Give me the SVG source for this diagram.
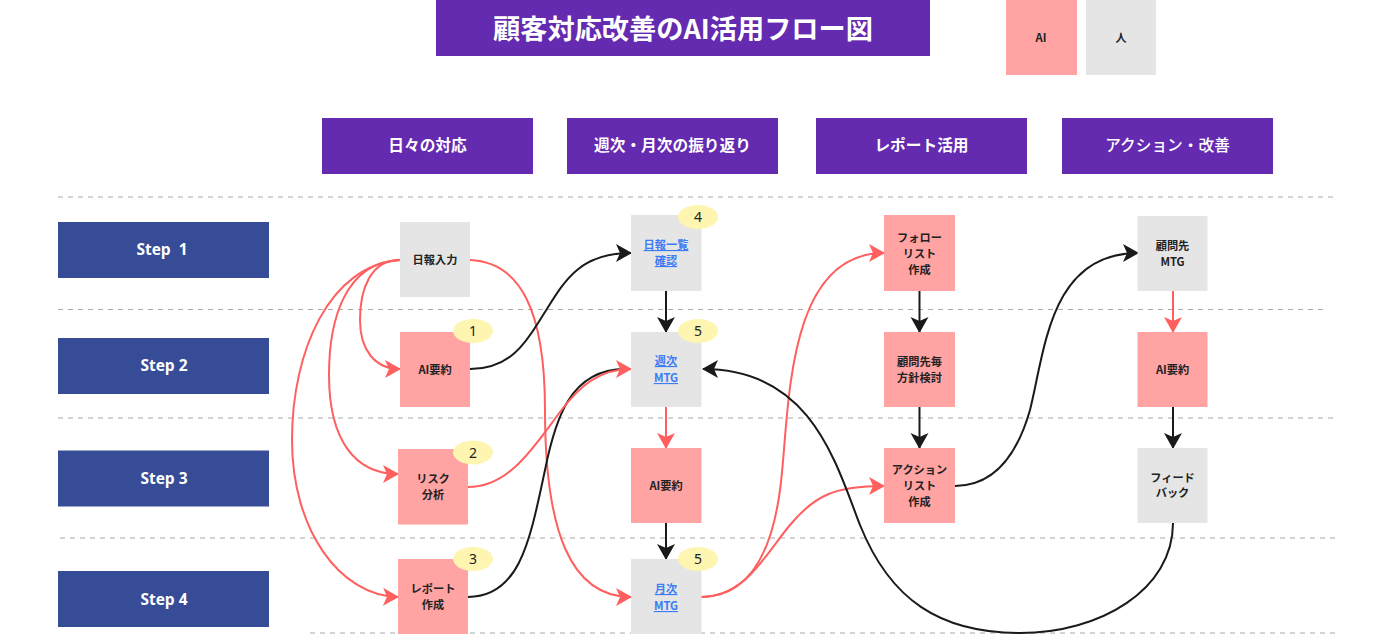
<svg xmlns="http://www.w3.org/2000/svg" width="1400" height="636" viewBox="0 0 1400 636">
<style>
text{font-family:"Noto Sans CJK JP","Noto Sans",sans-serif;text-anchor:middle;font-weight:700}
.head{fill:#642ab0}
.step{fill:#374c96}
.ai{fill:#ffa3a3}
.hu{fill:#e5e5e5}
.badge{fill:#fdf5b0}
.n{font-size:11.200px;fill:#222}
.l{font-size:11.200px;fill:#3a7cf5;text-decoration:underline}
.h{font-size:15.700px;fill:#fff}
.s{font-size:15.500px;fill:#fff;font-family:"Open Sans","Noto Sans",sans-serif;white-space:pre}
.b{font-size:14px;fill:#222;font-weight:400;font-family:"Noto Sans",sans-serif}
.dash{stroke:#aaa;stroke-width:1;stroke-dasharray:5 5;fill:none}
.r{stroke:#ff5f5f;stroke-width:2;fill:none;marker-end:url(#ar)}
.k{stroke:#1a1a1a;stroke-width:2;fill:none;marker-end:url(#ak)}
.k0{stroke:#1a1a1a;stroke-width:2;fill:none}
</style>
<defs>
<marker id="ar" markerUnits="userSpaceOnUse" markerWidth="18" markerHeight="20" refX="15" refY="9" orient="auto" overflow="visible"><path d="M0 0L16 9L0 18L4 9Z" fill="#ff5f5f"/></marker>
<marker id="ak" markerUnits="userSpaceOnUse" markerWidth="18" markerHeight="20" refX="15" refY="9" orient="auto" overflow="visible"><path d="M0 0L16 9L0 18L4 9Z" fill="#1a1a1a"/></marker>
</defs>
<rect width="1400" height="636" fill="#fff"/>
<g id="gridlines">
<path class="dash" d="M58 197H1335M58 309.500H1325M58 418H1335M60 538H1340M310 633H1340"/>
</g>
<g id="title"><rect class="head" x="436" y="0" width="494" height="56"/><text x="683" y="39" font-size="27.200" fill="#fff">顧客対応改善のAI活用フロー図</text></g>
<g id="legend-ai"><rect class="ai" x="1006" y="0" width="71" height="75"/><text class="n" x="1041" y="42">AI</text></g>
<g id="legend-human"><rect class="hu" x="1086" y="0" width="70" height="75"/><text class="n" x="1121" y="42">人</text></g>
<g id="col1"><rect class="head" x="322" y="118" width="211" height="56"/><text class="h" x="427.500" y="151">日々の対応</text></g>
<g id="col2"><rect class="head" x="567" y="118" width="211" height="56"/><text class="h" x="672.500" y="151">週次・月次の振り返り</text></g>
<g id="col3"><rect class="head" x="816" y="118" width="211" height="56"/><text class="h" x="921.500" y="151">レポート活用</text></g>
<g id="col4"><rect class="head" x="1062" y="118" width="211" height="56"/><text class="h" style="font-weight:500" x="1167.500" y="151">アクション・改善</text></g>
<g id="step1"><rect class="step" x="58" y="222" width="211" height="56"/><text class="s" x="162" y="255">Step  1</text></g>
<g id="step2"><rect class="step" x="58" y="338" width="211" height="56"/><text class="s" x="164" y="371">Step 2</text></g>
<g id="step3"><rect class="step" x="58" y="450.500" width="211" height="56"/><text class="s" x="164" y="483.500">Step 3</text></g>
<g id="step4"><rect class="step" x="58" y="571" width="211" height="56"/><text class="s" x="164" y="604.500">Step 4</text></g>
<g id="connectors">
<path class="r" d="M400 260C370 260 360 290 360 320C360 350 375 369 400 369"/>
<path class="r" d="M400 260C345 262 329 320 329 375C329 440 355 474 398 474"/>
<path class="r" d="M400 260C330 265 292 350 292 440C292 530 340 596 398 597"/>
<path class="r" d="M470 260C520 262 545 310 545 410C545 530 570 597 631 597"/>
<path class="k" d="M470 369C515 369 530 335 545 312C565 280 580 253 631 253"/>
<path class="k0" d="M468 597C520 597 530 540 545 470C555 420 570 369 625 369"/>
<path class="r" d="M468 487C510 487 535 445 560 412C580 385 600 369 631 369"/>
<path class="k" d="M666 291V332"/>
<path class="r" d="M666 407V448"/>
<path class="k" d="M666 523V559"/>
<path class="r" d="M701 597C750 597 772 550 780 490C790 420 782 253 884 253"/>
<path class="r" d="M701 597C745 597 765 555 790 525C815 495 835 486 884 486"/>
<path class="k" d="M919.500 291V332"/>
<path class="k" d="M919.500 407V448"/>
<path class="k" d="M955 486C1000 486 1020 445 1030 410C1045 350 1050 253 1138 253"/>
<path class="r" d="M1173 291V332"/>
<path class="k" d="M1173 407V448"/>
<path class="k" d="M1173 523C1173 590 1100 633 1020 633C940 633 890 600 860 525C835 460 810 369 703 369"/>
</g>
<g id="n-nippo"><rect class="hu" x="400" y="222" width="70" height="75"/><text class="n" x="435" y="264">日報入力</text></g>
<g id="n-summary1"><rect class="ai" x="400" y="332" width="70" height="75"/><text class="n" x="435" y="374">AI要約</text><ellipse class="badge" cx="473" cy="331" rx="20" ry="12"/><text class="b" x="473" y="336">1</text></g>
<g id="n-risk"><rect class="ai" x="398" y="449" width="70" height="75.500"/><text class="n" x="433" y="483">リスク</text><text class="n" x="433" y="499">分析</text><ellipse class="badge" cx="473" cy="452.500" rx="20" ry="12"/><text class="b" x="473" y="458">2</text></g>
<g id="n-report"><rect class="ai" x="398" y="559" width="70" height="75"/><text class="n" x="433" y="593">レポート</text><text class="n" x="433" y="609">作成</text><ellipse class="badge" cx="473" cy="559" rx="20" ry="12"/><text class="b" x="473" y="564">3</text></g>
<g id="n-list"><rect class="hu" x="631" y="215" width="70.500" height="76"/><text class="l" x="666" y="249">日報一覧</text><text class="l" x="666" y="265">確認</text><ellipse class="badge" cx="698" cy="217" rx="20" ry="12"/><text class="b" x="698" y="222">4</text></g>
<g id="n-weekly"><rect class="hu" x="631" y="332" width="70.500" height="75"/><text class="l" x="666" y="365">週次</text><text class="l" x="666" y="382">MTG</text><ellipse class="badge" cx="698" cy="331" rx="20" ry="12"/><text class="b" x="698" y="336">5</text></g>
<g id="n-summary2"><rect class="ai" x="631" y="448" width="70.500" height="75"/><text class="n" x="666" y="490">AI要約</text></g>
<g id="n-monthly"><rect class="hu" x="631" y="559" width="70.500" height="75"/><text class="l" x="666" y="593">月次</text><text class="l" x="666" y="610">MTG</text><ellipse class="badge" cx="698" cy="559" rx="20" ry="12"/><text class="b" x="698" y="564">5</text></g>
<g id="n-follow"><rect class="ai" x="884" y="215" width="71" height="76"/><text class="n" x="919.500" y="242">フォロー</text><text class="n" x="919.500" y="258">リスト</text><text class="n" x="919.500" y="274">作成</text></g>
<g id="n-policy"><rect class="ai" x="884" y="332" width="71" height="75"/><text class="n" x="919.500" y="366">顧問先毎</text><text class="n" x="919.500" y="382">方針検討</text></g>
<g id="n-action"><rect class="ai" x="884" y="448" width="71" height="75"/><text class="n" x="919.500" y="474">アクション</text><text class="n" x="919.500" y="490">リスト</text><text class="n" x="919.500" y="506">作成</text></g>
<g id="n-client"><rect class="hu" x="1137.500" y="216" width="70" height="75"/><text class="n" x="1172.500" y="250">顧問先</text><text class="n" x="1172.500" y="266">MTG</text></g>
<g id="n-summary3"><rect class="ai" x="1137.500" y="332" width="70" height="75"/><text class="n" x="1172.500" y="374">AI要約</text></g>
<g id="n-feedback"><rect class="hu" x="1137.500" y="448" width="70" height="75"/><text class="n" x="1172.500" y="482">フィード</text><text class="n" x="1172.500" y="497">バック</text></g>
</svg>
